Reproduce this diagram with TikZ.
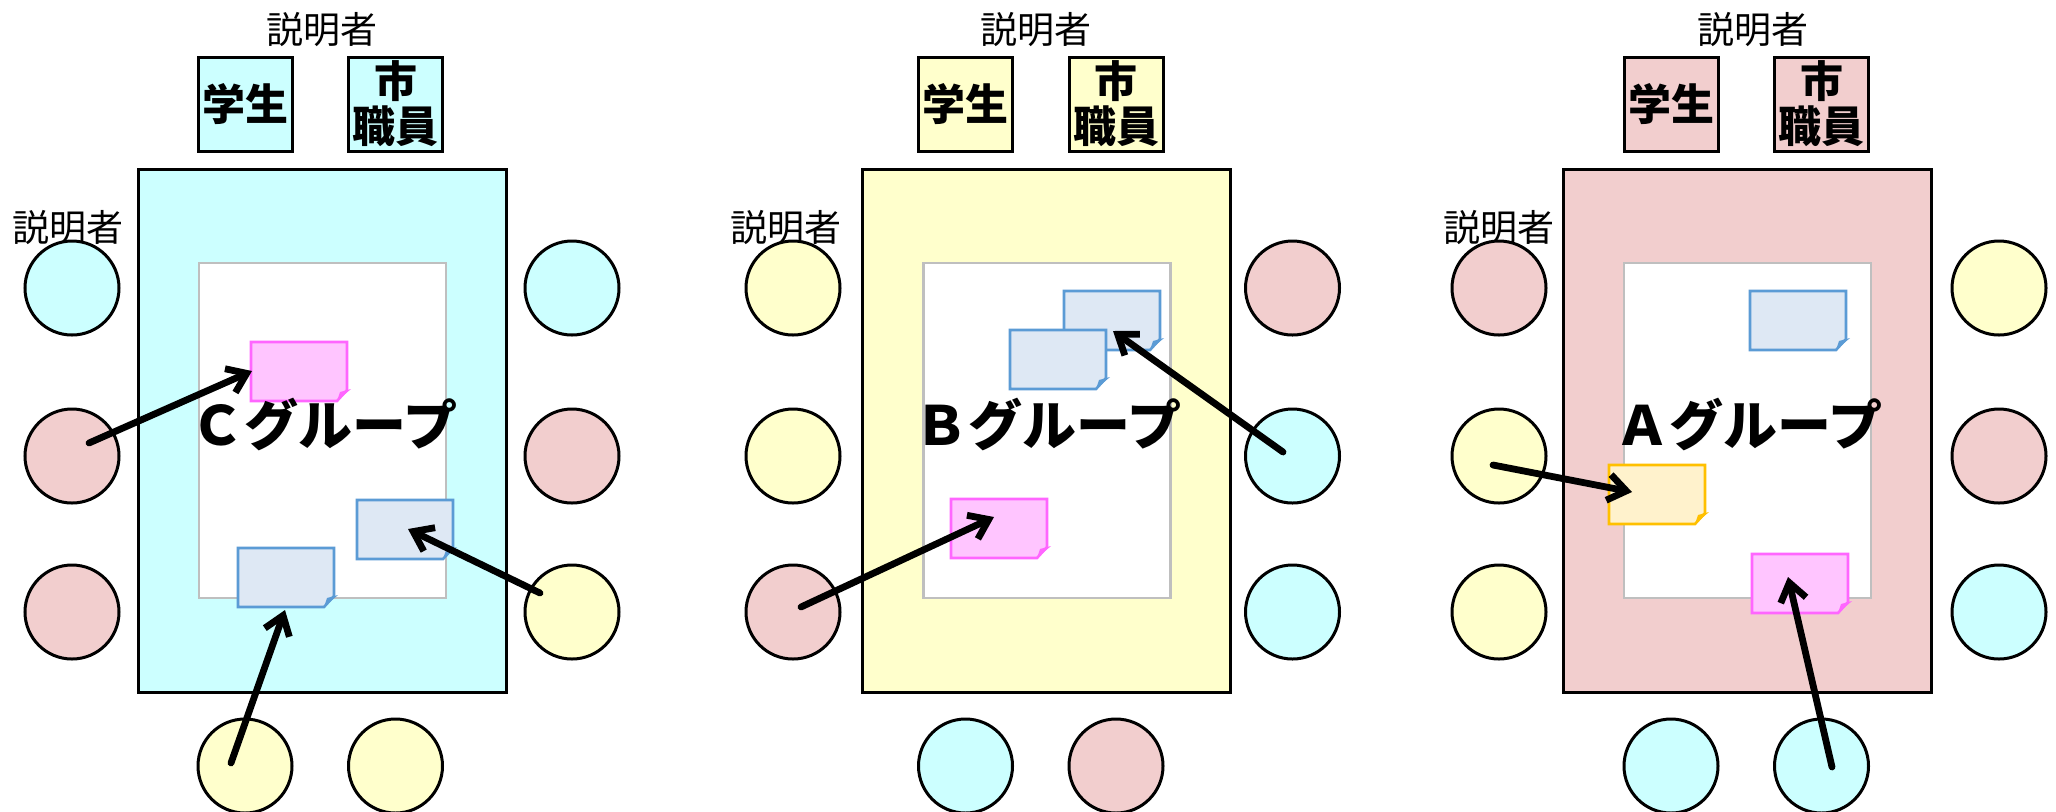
\documentclass[tikz,border=0pt]{standalone}
\usepackage{fontspec}
\setmainfont{Noto Sans CJK JP}
\usetikzlibrary{arrows.meta}
\definecolor{cyanF}{HTML}{CCFFFF}
\definecolor{yellowF}{HTML}{FFFFCC}
\definecolor{pinkF}{HTML}{F2CECE}
\definecolor{paperGray}{HTML}{BFBFBF}
\definecolor{nBlueF}{HTML}{DEE8F4}
\definecolor{nBlueD}{HTML}{5B9BD5}
\definecolor{nPinkF}{HTML}{FFC5FF}
\definecolor{nPinkD}{HTML}{FF66FF}
\definecolor{nYelF}{HTML}{FFF2CC}
\definecolor{nYelD}{HTML}{FFC000}
\tikzset{
 person/.style={circle, draw=black, line width=1.5pt, minimum size=47pt, inner sep=0pt},
 tablebox/.style={draw=black, line width=1.5pt, minimum width=184pt, minimum height=261.5pt, inner sep=0pt},
 paper/.style={draw=paperGray, line width=1.4pt, fill=white, minimum width=123.5pt, minimum height=167.5pt, inner sep=0pt},
 topbox/.style={draw=black, line width=1.5pt, minimum size=47pt, inner sep=0pt, font=\bfseries\fontsize{21.5}{22.5}\selectfont, align=center},
 lbl/.style={font=\fontsize{18.5}{20}\selectfont, inner sep=0pt},
 grp/.style={font=\bfseries\fontsize{27}{30}\selectfont, inner sep=0pt},
 arr/.style={line width=3.4pt, -{Straight Barb[length=9pt, width=13pt]}, line cap=round},
}
\newcommand\sticky[5]{%
 \node[anchor=north west, minimum width=48pt, minimum height=29.5pt, inner sep=0pt] (#1) at (#2,#3) {};
 \draw[line width=1.3pt, draw=#5, fill=#4] (#2,#3) -- ++(96,0) -- ++(0,48) -- ++(-10,11) -- ++(-86,0) -- cycle;
 \fill[#5] (#2+86,#3+59) -- ++(14,-12) -- ++(-11,3) -- cycle;}
\begin{document}
\begin{tikzpicture}[x=0.5pt,y=-0.5pt]
\useasboundingbox (0,0) rectangle (2056,811);
% ---------------- C group ----------------
\node[lbl] (c-tl) at (322,30) {説明者};
\node[topbox, fill=cyanF] (c-st) at (245,104) {学生};
\node[topbox, fill=cyanF] (c-sy) at (395.5,104) {市\\職員};
\node[tablebox, fill=cyanF] (c-tab) at (322,430.5) {};
\node[paper] (c-pap) at (322.5,430.5) {};
\node[lbl] (c-ll) at (68,228) {説明者};
\node[person, fill=cyanF] (c-l1) at (72,288) {};
\node[person, fill=pinkF] (c-l2) at (72,456) {};
\node[person, fill=pinkF] (c-l3) at (72,612) {};
\node[person, fill=cyanF] (c-r1) at (572,288) {};
\node[person, fill=pinkF] (c-r2) at (572,456) {};
\node[person, fill=yellowF] (c-r3) at (572,612) {};
\node[person, fill=yellowF] (c-b1) at (245,766) {};
\node[person, fill=yellowF] (c-b2) at (395.5,766) {};
\sticky{c-n1}{251}{342}{nPinkF}{nPinkD}
\sticky{c-n2}{357}{500}{nBlueF}{nBlueD}
\sticky{c-n3}{238}{548}{nBlueF}{nBlueD}
\node[grp] (c-g) at (324,424) {Ｃグループ};
\coordinate (c-s1) at (89,443); \coordinate (c-t1) at (252,371);
\coordinate (c-s2) at (540,593); \coordinate (c-t2) at (408,529);
\coordinate (c-s3) at (231,763); \coordinate (c-t3) at (285,610);
\draw[arr] (c-s1) -- (c-t1);
\draw[arr] (c-s2) -- (c-t2);
\draw[arr] (c-s3) -- (c-t3);
% ---------------- B group ----------------
\node[lbl] (b-tl) at (1036,30) {説明者};
\node[topbox, fill=yellowF] (b-st) at (965.5,104) {学生};
\node[topbox, fill=yellowF] (b-sy) at (1116,104) {市\\職員};
\node[tablebox, fill=yellowF] (b-tab) at (1046.5,430.5) {};
\node[paper] (b-pap) at (1047,430.5) {};
\node[lbl] (b-ll) at (786,228) {説明者};
\node[person, fill=yellowF] (b-l1) at (793,288) {};
\node[person, fill=yellowF] (b-l2) at (793,456) {};
\node[person, fill=pinkF] (b-l3) at (793,612) {};
\node[person, fill=pinkF] (b-r1) at (1292.5,288) {};
\node[person, fill=cyanF] (b-r2) at (1292.5,456) {};
\node[person, fill=cyanF] (b-r3) at (1292.5,612) {};
\node[person, fill=cyanF] (b-b1) at (965.5,766) {};
\node[person, fill=pinkF] (b-b2) at (1116,766) {};
\sticky{b-n1}{1064}{291}{nBlueF}{nBlueD}
\sticky{b-n2}{1010}{330}{nBlueF}{nBlueD}
\sticky{b-n3}{951}{499}{nPinkF}{nPinkD}
\node[grp] (b-g) at (1048,424) {Ｂグループ};
\coordinate (b-s1) at (1283,452); \coordinate (b-t1) at (1113,331);
\coordinate (b-s2) at (801,607); \coordinate (b-t2) at (994,517);
\draw[arr] (b-s1) -- (b-t1);
\draw[arr] (b-s2) -- (b-t2);
% ---------------- A group ----------------
\node[lbl] (a-tl) at (1753,30) {説明者};
\node[topbox, fill=pinkF] (a-st) at (1671,104) {学生};
\node[topbox, fill=pinkF] (a-sy) at (1821.5,104) {市\\職員};
\node[tablebox, fill=pinkF] (a-tab) at (1747,430.5) {};
\node[paper] (a-pap) at (1747.5,430.5) {};
\node[lbl] (a-ll) at (1499,228) {説明者};
\node[person, fill=pinkF] (a-l1) at (1499,288) {};
\node[person, fill=yellowF] (a-l2) at (1499,456) {};
\node[person, fill=yellowF] (a-l3) at (1499,612) {};
\node[person, fill=yellowF] (a-r1) at (1999,288) {};
\node[person, fill=pinkF] (a-r2) at (1999,456) {};
\node[person, fill=cyanF] (a-r3) at (1999,612) {};
\node[person, fill=cyanF] (a-b1) at (1671,766) {};
\node[person, fill=cyanF] (a-b2) at (1821.5,766) {};
\sticky{a-n1}{1750}{291}{nBlueF}{nBlueD}
\sticky{a-n2}{1609}{465}{nYelF}{nYelD}
\sticky{a-n3}{1752}{554}{nPinkF}{nPinkD}
\node[grp] (a-g) at (1749,424) {Ａグループ};
\coordinate (a-s1) at (1493,465); \coordinate (a-t1) at (1632,492);
\coordinate (a-s2) at (1832,767); \coordinate (a-t2) at (1788,577);
\draw[arr] (a-s1) -- (a-t1);
\draw[arr] (a-s2) -- (a-t2);
\end{tikzpicture}
\end{document}
